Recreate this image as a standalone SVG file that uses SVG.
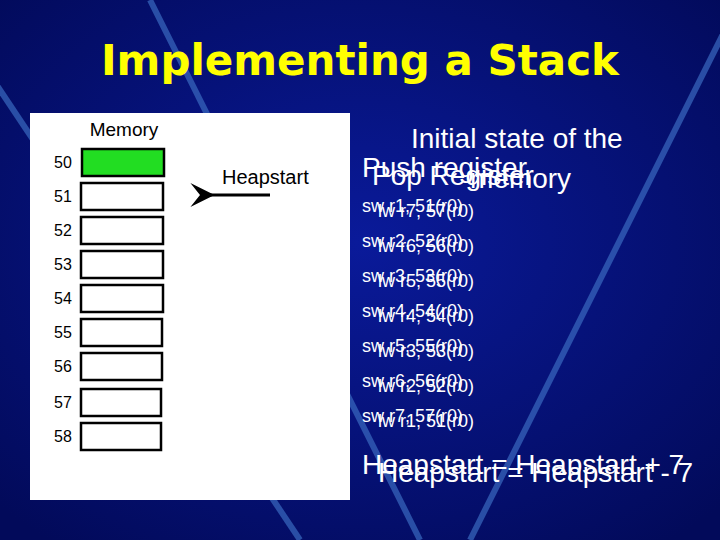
<svg xmlns="http://www.w3.org/2000/svg" width="720" height="540" viewBox="0 0 720 540">
<defs>
<radialGradient id="bg" cx="50%" cy="45%" r="70%"><stop offset="0" stop-color="#0a1a9a"/><stop offset="1" stop-color="#020a5a"/></radialGradient>
<marker id="ah" viewBox="0 0 10 10" refX="6" refY="5" markerWidth="8" markerHeight="8" orient="auto"><path d="M10,0 L0,5 L10,10 L6,5 Z" fill="#000"/></marker>
</defs>
<style>
text{font-family:"Liberation Sans",Arial,sans-serif}
.c{fill:#fff;stroke:#000;stroke-width:2.5}
.n{font-size:16px;fill:#000}
.s{font-size:18px;fill:#fff}
.h{font-size:28px;fill:#fff}
</style>
<rect width="720" height="540" fill="url(#bg)"/>
<g stroke="#3a6ac0" stroke-width="6" opacity="0.7" fill="none">
<path d="M150,0 L420,540"/><path d="M740,0 L470,540"/><path d="M-20,60 L300,540"/>
</g>
<text x="360" y="75" text-anchor="middle" font-size="42" font-weight="bold" fill="#ffff00" style="font-family:'DejaVu Sans',sans-serif">Implementing a Stack</text>
<g id="memory">
<rect x="30" y="113" width="320" height="387" fill="#fff"/>
<text x="124" y="136" text-anchor="middle" font-size="19" fill="#000">Memory</text>
<rect x="82" y="149" width="82" height="27" fill="#22dd22" stroke="#000" stroke-width="2.5"/>
<rect class="c" x="81" y="183" width="82" height="27"/>
<rect class="c" x="81" y="217" width="82" height="27"/>
<rect class="c" x="81" y="251" width="82" height="27"/>
<rect class="c" x="81" y="285" width="82" height="27"/>
<rect class="c" x="81" y="319" width="81" height="27"/>
<rect class="c" x="81" y="353" width="81" height="27"/>
<rect class="c" x="81" y="389" width="80" height="27"/>
<rect class="c" x="81" y="423" width="80" height="27"/>
<text class="n" x="54" y="168">50</text><text class="n" x="54" y="202">51</text><text class="n" x="54" y="236">52</text><text class="n" x="54" y="270">53</text><text class="n" x="54" y="304">54</text><text class="n" x="54" y="338">55</text><text class="n" x="54" y="372">56</text><text class="n" x="54" y="408">57</text><text class="n" x="54" y="442">58</text>
<text x="222" y="184" font-size="20" fill="#000">Heapstart</text>
</g>
<g id="connectors"><line x1="270" y1="195" x2="200" y2="195" stroke="#000" stroke-width="3" marker-end="url(#ah)"/></g>
<g id="text">
<text class="h" x="411" y="148">Initial state of the</text>
<text class="h" x="470" y="188">memory</text>
<text class="h" x="362" y="177">Push register</text>
<text class="h" x="372" y="185">Pop Register</text>
<text class="s" x="362" y="212">sw r1, 51(r0)</text><text class="s" x="378" y="217">lw r7, 57(r0)</text>
<text class="s" x="362" y="247">sw r2, 52(r0)</text><text class="s" x="378" y="252">lw r6, 56(r0)</text>
<text class="s" x="362" y="282">sw r3, 53(r0)</text><text class="s" x="378" y="287">lw r5, 55(r0)</text>
<text class="s" x="362" y="317">sw r4, 54(r0)</text><text class="s" x="378" y="322">lw r4, 54(r0)</text>
<text class="s" x="362" y="352">sw r5, 55(r0)</text><text class="s" x="378" y="357">lw r3, 53(r0)</text>
<text class="s" x="362" y="387">sw r6, 56(r0)</text><text class="s" x="378" y="392">lw r2, 52(r0)</text>
<text class="s" x="362" y="422">sw r7, 57(r0)</text><text class="s" x="378" y="427">lw r1, 51(r0)</text>
<text class="h" x="362" y="474">Heapstart = Heapstart + 7</text>
<text class="h" x="378" y="482">Heapstart = Heapstart - 7</text>
</g>
</svg>
